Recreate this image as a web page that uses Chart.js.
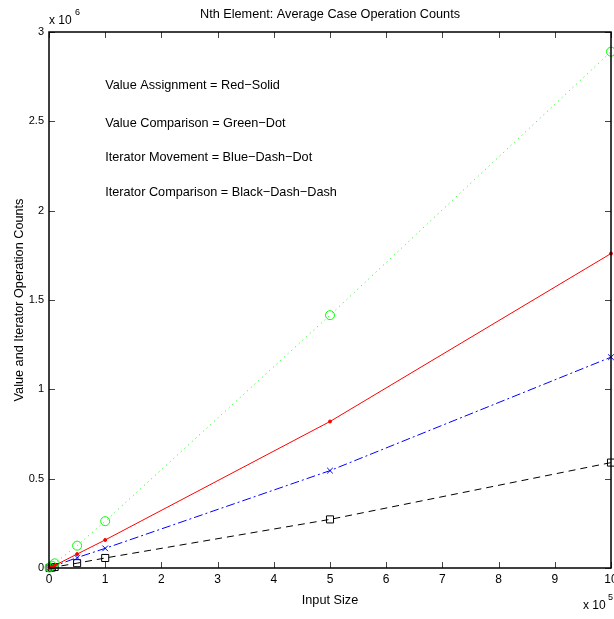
<!DOCTYPE html>
<html>
<head>
<meta charset="utf-8">
<script src="https://cdn.jsdelivr.net/npm/chart.js@4.4.0/dist/chart.umd.min.js"></script>
<style>
  html, body { margin: 0; padding: 0; background: #fff; }
  #wrap { width: 614px; height: 619px; }
</style>
</head>
<body>
<div id="wrap"><canvas id="myChart" width="614" height="619"></canvas></div>
<script>
// input sizes and operation counts
var sizes = [1000, 5000, 10000, 50000, 100000, 500000, 1000000];
var valueAssign = [1300, 6800, 14000, 78000, 157000, 820000, 1760000];
var valueCompare = [2700, 13000, 26000, 125000, 262000, 1415000, 2890000];
var iterMove = [1100, 5600, 11500, 58000, 110000, 545000, 1180000];
var iterCompare = [550, 2700, 5500, 27000, 56000, 272000, 590000];

var xTicks = [0, 1, 2, 3, 4, 5, 6, 7, 8, 9, 10];
var yTicks = [0, 0.5, 1, 1.5, 2, 2.5, 3];

var notes = [
   'Value Assignment = Red\u2212Solid',
   'Value Comparison = Green\u2212Dot',
   'Iterator Movement = Blue\u2212Dash\u2212Dot',
   'Iterator Comparison = Black\u2212Dash\u2212Dash'
];
var noteY = [2.7e6, 2.49e6, 2.295e6, 2.1e6];

var FONT = '"Liberation Sans", Arial, Helvetica, sans-serif';
var TXT = '12.7px ' + FONT;

function pts(ys) {
   return sizes.map(function(x, i) { return { x: x, y: ys[i] }; });
}

var matlabPlugin = {
   id: 'matlab',
   afterDatasetsDraw: function(chart) {
      var ctx = chart.ctx;
      var a = chart.chartArea;
      var xs = chart.scales.x, ys = chart.scales.y;
      ctx.save();
      // inward ticks
      ctx.strokeStyle = '#444';
      ctx.lineWidth = 1;
      ctx.beginPath();
      xTicks.forEach(function(t) {
         var px = Math.round(xs.getPixelForValue(t * 1e5)) + 0.5;
         ctx.moveTo(px, a.bottom); ctx.lineTo(px, a.bottom - 6);
         ctx.moveTo(px, a.top); ctx.lineTo(px, a.top + 6);
      });
      yTicks.forEach(function(t) {
         var py = Math.round(ys.getPixelForValue(t * 1e6)) + 0.5;
         ctx.moveTo(a.left, py); ctx.lineTo(a.left + 6, py);
         ctx.moveTo(a.right, py); ctx.lineTo(a.right - 6, py);
      });
      ctx.stroke();
      // box
      ctx.strokeStyle = '#000';
      ctx.lineWidth = 1.5;
      ctx.strokeRect(a.left, a.top, a.right - a.left, a.bottom - a.top);

      ctx.fillStyle = '#000';
      ctx.textBaseline = 'middle';
      // x tick labels
      ctx.font = '12px ' + FONT;
      ctx.textAlign = 'center';
      xTicks.forEach(function(t) {
         ctx.fillText(String(t), xs.getPixelForValue(t * 1e5), a.bottom + 12);
      });

      // text annotations
      ctx.font = TXT;
      ctx.textAlign = 'left';
      notes.forEach(function(n, i) {
         ctx.fillText(n, xs.getPixelForValue(1e5), ys.getPixelForValue(noteY[i]));
      });

      // title
      ctx.textAlign = 'center';
      ctx.fillText('Nth Element: Average Case Operation Counts', (a.left + a.right) / 2, 14);
      // x label
      ctx.fillText('Input Size', (a.left + a.right) / 2, 600);
      // y label
      ctx.save();
      ctx.translate(19, (a.top + a.bottom) / 2);
      ctx.rotate(-Math.PI / 2);
      ctx.fillText('Value and Iterator Operation Counts', 0, 0);
      ctx.restore();

      // exponents
      ctx.textAlign = 'left';
      ctx.font = '12px ' + FONT;
      ctx.fillText('x 10', 49, 21);
      ctx.font = '9px ' + FONT;
      ctx.fillText('6', 75, 13);
      ctx.font = '12px ' + FONT;
      ctx.fillText('x 10', 583, 606);
      ctx.font = '9px ' + FONT;
      ctx.fillText('5', 608, 598);
      ctx.restore();
   }
};

var ctx = document.getElementById('myChart').getContext('2d');
var chart = new Chart(ctx, {
   type: 'scatter',
   data: {
      datasets: [{
         label: 'Value Assignment',
         data: pts(valueAssign),
         borderColor: '#ff0000',
         backgroundColor: '#ff0000',
         borderWidth: 1,
         showLine: true,
         pointStyle: 'circle',
         pointRadius: 1.5,
         clip: false
      }, {
         label: 'Value Comparison',
         data: pts(valueCompare),
         borderColor: '#00ff00',
         backgroundColor: 'rgba(0,0,0,0)',
         borderWidth: 1,
         borderDash: [1, 4],
         showLine: true,
         pointStyle: 'circle',
         pointRadius: 4.5,
         pointBorderWidth: 1,
         clip: false
      }, {
         label: 'Iterator Movement',
         data: pts(iterMove),
         borderColor: '#0000ff',
         backgroundColor: 'rgba(0,0,0,0)',
         borderWidth: 1,
         borderDash: [9, 3, 2, 3],
         showLine: true,
         pointStyle: 'crossRot',
         pointRadius: 4,
         pointBorderWidth: 1,
         clip: false
      }, {
         label: 'Iterator Comparison',
         data: pts(iterCompare),
         borderColor: '#000000',
         backgroundColor: 'rgba(0,0,0,0)',
         borderWidth: 1,
         borderDash: [7, 5],
         showLine: true,
         pointStyle: 'rect',
         pointRadius: 5,
         pointBorderWidth: 1,
         clip: false
      }]
   },
   options: {
      responsive: false,
      animation: false,
      events: [],
      layout: { autoPadding: false, padding: { top: 32, right: 3, left: 0, bottom: 0 } },
      plugins: {
         legend: { display: false },
         tooltip: { enabled: false },
         title: { display: false }
      },
      scales: {
         x: {
            type: 'linear',
            min: 0,
            max: 1e6,
            grid: { display: false, drawTicks: false },
            border: { display: false },
            ticks: { display: false, stepSize: 1e5 },
            afterFit: function(s) { s.height = 51; }
         },
         y: {
            type: 'linear',
            min: 0,
            max: 3e6,
            grid: { display: false, drawTicks: false },
            border: { display: false },
            ticks: {
               stepSize: 5e5,
               autoSkip: false,
               padding: 5,
               color: '#000',
               font: { family: FONT, size: 11 },
               callback: function(v) { return String(v / 1e6); }
            },
            afterFit: function(s) { s.width = 49; s.paddingTop = 0; s.paddingBottom = 0; }
         }
      }
   },
   plugins: [matlabPlugin]
});
</script>
</body>
</html>
